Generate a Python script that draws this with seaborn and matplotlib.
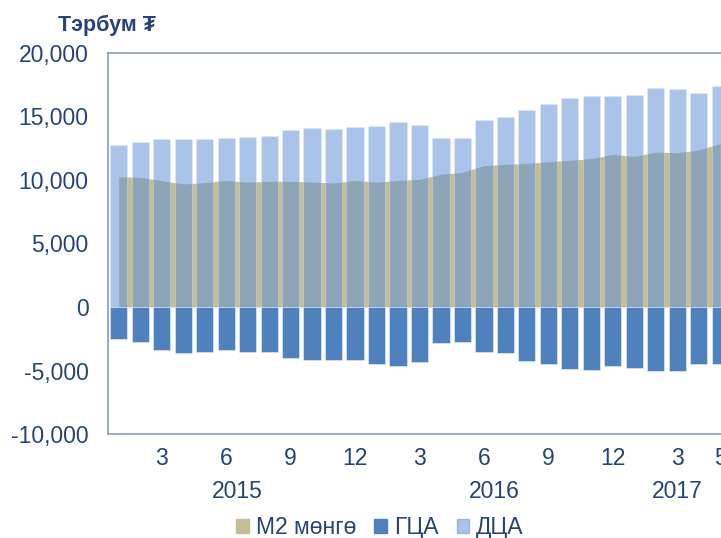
import numpy as np
import pandas as pd
import matplotlib
matplotlib.use("Agg")
import matplotlib.pyplot as plt
import seaborn as sns
from matplotlib.patches import Patch
from matplotlib.ticker import FuncFormatter
from matplotlib.transforms import blended_transform_factory

# ========== DATA ==========
# monthly, 2015-01 .. 2017-05
months = list(range(1, 13)) + list(range(1, 13)) + list(range(1, 6))
years = [2015] * 12 + [2016] * 12 + [2017] * 5

m2 = [10260, 10210, 9950, 9690, 9790, 9970, 9820, 9900, 9900, 9840, 9760, 9970,
      9820, 9970, 10050, 10450, 10600, 11130, 11230, 11310, 11440, 11550, 11680, 12020,
      11860, 12200, 12150, 12360, 12880]
dca = [12750, 12970, 13250, 13250, 13250, 13330, 13410, 13460, 13940, 14070, 13990, 14200,
       14280, 14570, 14330, 13330, 13330, 14720, 14930, 15510, 15960, 16460, 16610, 16610,
       16690, 17240, 17190, 16850, 17400]
gca = [-2520, -2780, -3390, -3650, -3520, -3390, -3570, -3570, -4020, -4170, -4170, -4170,
       -4460, -4620, -4300, -2860, -2730, -3570, -3650, -4250, -4460, -4910, -4990, -4620,
       -4830, -5040, -5040, -4460, -4460]

shown_months = [3, 6, 9, 12]
year_labels = ["2015", "2016", "2017"]
legend_labels = ["M2 мөнгө", "ГЦА", "ДЦА"]

# ========== STYLE ==========
KHAKI = "#C4BD97"
DARK_BLUE = "#4F81BD"
LIGHT_BLUE = "#5D90D4"
LIGHT_ALPHA = 0.53
TEXT = "#264478"
FRAME = "#8A9BB8"

sns.set_theme(style="white")
plt.rcParams["font.family"] = ["Liberation Sans", "DejaVu Sans"]

df = pd.DataFrame({"idx": range(len(months)), "month": months, "year": years,
                   "m2": m2, "dca": dca, "gca": gca})

fig = plt.figure(figsize=(7.21, 5.38), dpi=100)
# axes runs slightly past the right edge, like the cropped original
ax = fig.add_axes([0.1498, 0.1933, 0.864, 0.7082])

ax.fill_between(df["idx"], 0, df["m2"], color=KHAKI, lw=0, zorder=1)
sns.barplot(data=df, x="idx", y="dca", color=LIGHT_BLUE, alpha=LIGHT_ALPHA, width=0.8,
            saturation=1, edgecolor="#E8EEF8", linewidth=0.4, ax=ax, zorder=2)
sns.barplot(data=df, x="idx", y="gca", color=DARK_BLUE, width=0.8,
            saturation=1, edgecolor="#E8EEF8", linewidth=0.4, ax=ax, zorder=2)

ax.set_xlim(-0.5, len(months) - 0.5)
ax.set_ylim(-10000, 20000)
ax.set_yticks(range(-10000, 20001, 5000))
ax.yaxis.set_major_formatter(FuncFormatter(lambda v, p: f"{v:,.0f}"))

tick_pos = [i for i, m in enumerate(months) if m in shown_months or i == len(months) - 1]
ax.set_xticks(tick_pos)
ax.set_xticklabels([str(months[i]) for i in tick_pos])
ax.set_xlabel("")
ax.set_ylabel("")
ax.tick_params(axis="both", length=0, labelsize=16.5, labelcolor=TEXT)
ax.tick_params(axis="y", pad=14)
ax.tick_params(axis="x", pad=9)

for s in ax.spines.values():
    s.set_color(FRAME)
    s.set_linewidth(1.2)

# year labels centered under each year's months
trans = blended_transform_factory(ax.transData, ax.transAxes)
for yl in year_labels:
    pos = df.loc[df["year"] == int(yl), "idx"]
    ax.text(pos.mean(), -0.15, yl, transform=trans, ha="center", va="center",
            fontsize=16.5, color=TEXT)

fig.text(0.148, 0.953, "Тэрбум ₮", ha="center", va="center", fontsize=15.5,
         fontweight="bold", color=TEXT)

handles = [Patch(color=KHAKI), Patch(color=DARK_BLUE), Patch(color=LIGHT_BLUE, alpha=LIGHT_ALPHA)]
fig.legend(handles, legend_labels, loc="center", bbox_to_anchor=(0.527, 0.02), ncol=3,
           frameon=False, fontsize=16.5, labelcolor=TEXT, handlelength=0.55, handleheight=0.55,
           handletextpad=0.3, columnspacing=0.8)

fig.savefig("out.png", dpi=100)
